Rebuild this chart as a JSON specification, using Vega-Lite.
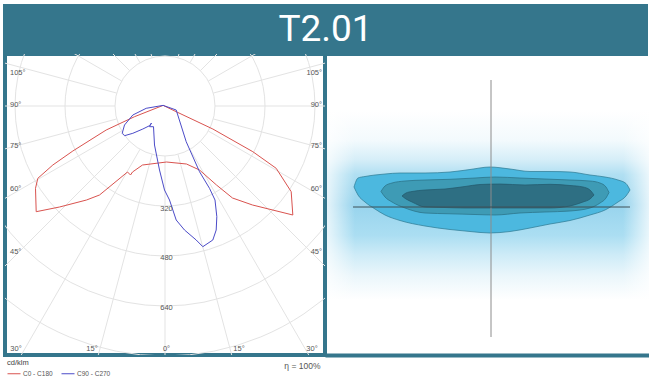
{
  "$schema": "https://vega.github.io/schema/vega-lite/v6.json",
  "background": "white",
  "padding": {"left": 3, "top": 4, "right": 0, "bottom": 0},
  "autosize": {"type": "pad"},
  "config": {"view": {"stroke": null}, "font": "Liberation Sans"},
  "spacing": 0,
  "bounds": "flush",
  "vconcat": [
    {
      "width": 641,
      "height": 48,
      "view": {"fill": "#35768C", "stroke": "#35768C", "strokeWidth": 4},
      "data": {"values": [{"label": "T2.01"}]},
      "mark": {"type": "text", "font": "Roboto", "fontSize": 37, "color": "white"},
      "encoding": {"text": {"field": "label"}}
    },
    {
      "spacing": 0,
      "bounds": "flush",
      "hconcat": [
        {
          "width": 320,
          "height": 301,
          "view": {"fill": "white", "stroke": "#35768C", "strokeWidth": 4},
          "layer": [
            {
              "data": {"values": [{"ring": 160}, {"ring": 320}, {"ring": 480}, {"ring": 640}, {"ring": 800}]},
              "mark": {"type": "point", "shape": "circle", "filled": false, "stroke": "#e3e3e3", "strokeWidth": 1, "opacity": 1, "clip": true},
              "encoding": {
                "x": {"datum": 0, "type": "quantitative", "scale": {"domain": [-512, 512], "nice": false, "zero": false}, "axis": {"domain": false, "ticks": false, "labels": false, "grid": false, "title": "η = 100%", "titleFontSize": 8.5, "titleFontWeight": "normal", "titleColor": "#555", "titleFont": "Liberation Sans", "titleX": 315, "titleY": 10, "titleAlign": "right", "titleBaseline": "middle"}},
                "y": {"datum": 0, "type": "quantitative", "scale": {"domain": [-796.8, 166.4], "nice": false, "zero": false}, "axis": null},
                "size": {"field": "ring", "type": "quantitative", "scale": {"type": "pow", "exponent": 2, "domain": [0, 800], "range": [0, 250000]}, "legend": null}
              }
            },
            {
              "data": {"values": [
                {"x0": 0, "y0": -160, "x1": 0, "y1": -1200},
                {"x0": 41.4, "y0": -154.5, "x1": 310.6, "y1": -1159.1},
                {"x0": 80, "y0": -138.6, "x1": 600, "y1": -1039.2},
                {"x0": 113.1, "y0": -113.1, "x1": 848.5, "y1": -848.5},
                {"x0": 138.6, "y0": -80, "x1": 1039.2, "y1": -600},
                {"x0": 154.5, "y0": -41.4, "x1": 1159.1, "y1": -310.6},
                {"x0": 160, "y0": 0, "x1": 1200, "y1": 0},
                {"x0": 154.5, "y0": 41.4, "x1": 1159.1, "y1": 310.6},
                {"x0": 138.6, "y0": 80, "x1": 1039.2, "y1": 600},
                {"x0": 113.1, "y0": 113.1, "x1": 848.5, "y1": 848.5},
                {"x0": 80, "y0": 138.6, "x1": 600, "y1": 1039.2},
                {"x0": 41.4, "y0": 154.5, "x1": 310.6, "y1": 1159.1},
                {"x0": -41.4, "y0": -154.5, "x1": -310.6, "y1": -1159.1},
                {"x0": -80, "y0": -138.6, "x1": -600, "y1": -1039.2},
                {"x0": -113.1, "y0": -113.1, "x1": -848.5, "y1": -848.5},
                {"x0": -138.6, "y0": -80, "x1": -1039.2, "y1": -600},
                {"x0": -154.5, "y0": -41.4, "x1": -1159.1, "y1": -310.6},
                {"x0": -160, "y0": 0, "x1": -1200, "y1": 0},
                {"x0": -154.5, "y0": 41.4, "x1": -1159.1, "y1": 310.6},
                {"x0": -138.6, "y0": 80, "x1": -1039.2, "y1": 600},
                {"x0": -113.1, "y0": 113.1, "x1": -848.5, "y1": 848.5},
                {"x0": -80, "y0": 138.6, "x1": -600, "y1": 1039.2},
                {"x0": -41.4, "y0": 154.5, "x1": -310.6, "y1": 1159.1}
              ]},
              "mark": {"type": "rule", "stroke": "#e3e3e3", "strokeWidth": 1, "clip": true},
              "encoding": {
                "x": {"field": "x0", "type": "quantitative", "scale": {"domain": [-512, 512], "nice": false, "zero": false}, "axis": {"domain": false, "ticks": false, "labels": false, "grid": false, "title": "η = 100%", "titleFontSize": 8.5, "titleFontWeight": "normal", "titleColor": "#555", "titleFont": "Liberation Sans", "titleX": 315, "titleY": 10, "titleAlign": "right", "titleBaseline": "middle"}},
                "y": {"field": "y0", "type": "quantitative", "scale": {"domain": [-796.8, 166.4], "nice": false, "zero": false}, "axis": null},
                "x2": {"field": "x1"},
                "y2": {"field": "y1"}
              }
            },
            {
              "data": {"values": [
                {"s": "C0 - C180", "i": 1, "x": -6, "y": 2},
                {"s": "C0 - C180", "i": 2, "x": -97.6, "y": -34.2},
                {"s": "C0 - C180", "i": 3, "x": -188.2, "y": -76.8},
                {"s": "C0 - C180", "i": 4, "x": -295, "y": -144},
                {"s": "C0 - C180", "i": 5, "x": -359, "y": -188.8},
                {"s": "C0 - C180", "i": 6, "x": -407, "y": -231.4},
                {"s": "C0 - C180", "i": 7, "x": -414.4, "y": -263.4},
                {"s": "C0 - C180", "i": 8, "x": -412.2, "y": -338.2},
                {"s": "C0 - C180", "i": 9, "x": -337.6, "y": -323.2},
                {"s": "C0 - C180", "i": 10, "x": -251.2, "y": -300.8},
                {"s": "C0 - C180", "i": 11, "x": -209.6, "y": -284.8},
                {"s": "C0 - C180", "i": 12, "x": -120, "y": -211.2},
                {"s": "C0 - C180", "i": 13, "x": -110.4, "y": -220.8},
                {"s": "C0 - C180", "i": 14, "x": -104, "y": -211.2},
                {"s": "C0 - C180", "i": 15, "x": -72, "y": -188.8},
                {"s": "C0 - C180", "i": 16, "x": 4.8, "y": -179.2},
                {"s": "C0 - C180", "i": 17, "x": 68.8, "y": -185.6},
                {"s": "C0 - C180", "i": 18, "x": 110.4, "y": -204.8},
                {"s": "C0 - C180", "i": 19, "x": 164.8, "y": -252.8},
                {"s": "C0 - C180", "i": 20, "x": 216, "y": -294.4},
                {"s": "C0 - C180", "i": 21, "x": 280, "y": -316.8},
                {"s": "C0 - C180", "i": 22, "x": 409, "y": -348.8},
                {"s": "C0 - C180", "i": 23, "x": 403.8, "y": -274.2},
                {"s": "C0 - C180", "i": 24, "x": 355.8, "y": -199.4},
                {"s": "C0 - C180", "i": 25, "x": 281, "y": -146.2},
                {"s": "C0 - C180", "i": 26, "x": 153, "y": -73.6},
                {"s": "C0 - C180", "i": 27, "x": 35.8, "y": -18.2},
                {"s": "C0 - C180", "i": 28, "x": -6, "y": 2},
                {"s": "C90 - C270", "i": 1, "x": -6, "y": 2},
                {"s": "C90 - C270", "i": 2, "x": -60.2, "y": -7.4},
                {"s": "C90 - C270", "i": 3, "x": -103, "y": -28.8},
                {"s": "C90 - C270", "i": 4, "x": -129.6, "y": -60.8},
                {"s": "C90 - C270", "i": 5, "x": -137, "y": -87.4},
                {"s": "C90 - C270", "i": 6, "x": -129.6, "y": -95},
                {"s": "C90 - C270", "i": 7, "x": -103, "y": -87.4},
                {"s": "C90 - C270", "i": 8, "x": -71, "y": -73.6},
                {"s": "C90 - C270", "i": 9, "x": -49.6, "y": -63},
                {"s": "C90 - C270", "i": 10, "x": -43.2, "y": -54.4},
                {"s": "C90 - C270", "i": 11, "x": -49.6, "y": -66.2},
                {"s": "C90 - C270", "i": 12, "x": -36.8, "y": -66.2},
                {"s": "C90 - C270", "i": 13, "x": -33.6, "y": -124.8},
                {"s": "C90 - C270", "i": 14, "x": -17.6, "y": -204.8},
                {"s": "C90 - C270", "i": 15, "x": -1.6, "y": -268.8},
                {"s": "C90 - C270", "i": 16, "x": 14.4, "y": -300.8},
                {"s": "C90 - C270", "i": 17, "x": 35.8, "y": -364.8},
                {"s": "C90 - C270", "i": 18, "x": 62.4, "y": -396.8},
                {"s": "C90 - C270", "i": 19, "x": 99.8, "y": -428.8},
                {"s": "C90 - C270", "i": 20, "x": 121, "y": -450.2},
                {"s": "C90 - C270", "i": 21, "x": 153, "y": -428.8},
                {"s": "C90 - C270", "i": 22, "x": 163.8, "y": -396.8},
                {"s": "C90 - C270", "i": 23, "x": 165.8, "y": -354.2},
                {"s": "C90 - C270", "i": 24, "x": 160, "y": -300.8},
                {"s": "C90 - C270", "i": 25, "x": 142.4, "y": -263.4},
                {"s": "C90 - C270", "i": 26, "x": 110.4, "y": -210.2},
                {"s": "C90 - C270", "i": 27, "x": 67.8, "y": -114.2},
                {"s": "C90 - C270", "i": 28, "x": 35.8, "y": -12.8},
                {"s": "C90 - C270", "i": 29, "x": -6, "y": 2}
              ]},
              "mark": {"type": "line", "strokeWidth": 1, "clip": true},
              "encoding": {
                "x": {"field": "x", "type": "quantitative", "scale": {"domain": [-512, 512], "nice": false, "zero": false}, "axis": {"domain": false, "ticks": false, "labels": false, "grid": false, "title": "η = 100%", "titleFontSize": 8.5, "titleFontWeight": "normal", "titleColor": "#555", "titleFont": "Liberation Sans", "titleX": 315, "titleY": 10, "titleAlign": "right", "titleBaseline": "middle"}},
                "y": {"field": "y", "type": "quantitative", "scale": {"domain": [-796.8, 166.4], "nice": false, "zero": false}, "axis": null},
                "order": {"field": "i", "type": "quantitative"},
                "color": {
                  "field": "s", "type": "nominal",
                  "scale": {"domain": ["C0 - C180", "C90 - C270"], "range": ["#d9534f", "#4b4bc8"]},
                  "legend": {"orient": "none", "legendX": 2, "legendY": 353, "direction": "horizontal", "title": "cd/klm", "titleFontSize": 7.5, "titleFontWeight": "normal", "titleColor": "#444", "titleFont": "Liberation Sans", "titlePadding": 0, "labelFontSize": 6.5, "labelFont": "Liberation Sans", "labelColor": "#555", "symbolType": "stroke", "symbolSize": 169, "symbolStrokeWidth": 1, "labelOffset": 2, "columnPadding": 6, "padding": 0}
                }
              }
            },
            {
              "data": {"values": [
                {"t": "105°", "x": -496, "y": 105.6},
                {"t": "90°", "x": -496, "y": 3.2},
                {"t": "75°", "x": -496, "y": -128},
                {"t": "60°", "x": -496, "y": -265.6},
                {"t": "45°", "x": -496, "y": -467.2}
              ]},
              "mark": {"type": "text", "align": "left", "baseline": "middle", "fontSize": 7.5, "color": "#555", "font": "Liberation Sans"},
              "encoding": {
                "x": {"field": "x", "type": "quantitative", "scale": {"domain": [-512, 512], "nice": false, "zero": false}, "axis": {"domain": false, "ticks": false, "labels": false, "grid": false, "title": "η = 100%", "titleFontSize": 8.5, "titleFontWeight": "normal", "titleColor": "#555", "titleFont": "Liberation Sans", "titleX": 315, "titleY": 10, "titleAlign": "right", "titleBaseline": "middle"}},
                "y": {"field": "y", "type": "quantitative", "scale": {"domain": [-796.8, 166.4], "nice": false, "zero": false}, "axis": null},
                "text": {"field": "t"}
              }
            },
            {
              "data": {"values": [
                {"t": "105°", "x": 502.4, "y": 105.6},
                {"t": "90°", "x": 502.4, "y": 3.2},
                {"t": "75°", "x": 502.4, "y": -128},
                {"t": "60°", "x": 502.4, "y": -265.6},
                {"t": "45°", "x": 502.4, "y": -467.2}
              ]},
              "mark": {"type": "text", "align": "right", "baseline": "middle", "fontSize": 7.5, "color": "#555", "font": "Liberation Sans"},
              "encoding": {
                "x": {"field": "x", "type": "quantitative", "scale": {"domain": [-512, 512], "nice": false, "zero": false}, "axis": {"domain": false, "ticks": false, "labels": false, "grid": false, "title": "η = 100%", "titleFontSize": 8.5, "titleFontWeight": "normal", "titleColor": "#555", "titleFont": "Liberation Sans", "titleX": 315, "titleY": 10, "titleAlign": "right", "titleBaseline": "middle"}},
                "y": {"field": "y", "type": "quantitative", "scale": {"domain": [-796.8, 166.4], "nice": false, "zero": false}, "axis": null},
                "text": {"field": "t"}
              }
            },
            {
              "data": {"values": [
                {"t": "30°", "x": -476.8, "y": -777.6},
                {"t": "15°", "x": -233.6, "y": -777.6},
                {"t": "0°", "x": 4.8, "y": -777.6},
                {"t": "15°", "x": 236.8, "y": -777.6},
                {"t": "30°", "x": 470.4, "y": -777.6},
                {"t": "320", "x": 4.8, "y": -329.6},
                {"t": "480", "x": 4.8, "y": -486.4},
                {"t": "640", "x": 4.8, "y": -646.4}
              ]},
              "mark": {"type": "text", "align": "center", "baseline": "middle", "fontSize": 7.5, "color": "#555", "font": "Liberation Sans"},
              "encoding": {
                "x": {"field": "x", "type": "quantitative", "scale": {"domain": [-512, 512], "nice": false, "zero": false}, "axis": {"domain": false, "ticks": false, "labels": false, "grid": false, "title": "η = 100%", "titleFontSize": 8.5, "titleFontWeight": "normal", "titleColor": "#555", "titleFont": "Liberation Sans", "titleX": 315, "titleY": 10, "titleAlign": "right", "titleBaseline": "middle"}},
                "y": {"field": "y", "type": "quantitative", "scale": {"domain": [-796.8, 166.4], "nice": false, "zero": false}, "axis": null},
                "text": {"field": "t"}
              }
            }
          ]
        },
        {
          "width": 324,
          "height": 301,
          "view": {"stroke": null},
          "layer": [
            {
              "data": {"values": [{}]},
              "mark": {"type": "rect", "clip": true, "fill": {"gradient": "linear", "x1": 0, "y1": 0, "x2": 0, "y2": 1, "stops": [
                {"offset": 0, "color": "#ffffff"},
                {"offset": 0.16, "color": "#f3fafd"},
                {"offset": 0.26, "color": "#d6eef8"},
                {"offset": 0.34, "color": "#b0dff2"},
                {"offset": 0.5, "color": "#98d4ed"},
                {"offset": 0.66, "color": "#abdef2"},
                {"offset": 0.76, "color": "#cdebf7"},
                {"offset": 0.87, "color": "#eaf6fb"},
                {"offset": 1, "color": "#ffffff"}
              ]}},
              "encoding": {
                "x": {"datum": -16.4, "type": "quantitative", "scale": {"domain": [-16.6, 15.8], "nice": false, "zero": false}, "axis": {"domain": true, "domainColor": "#35768C", "domainWidth": 4, "ticks": false, "labels": false, "grid": false, "title": null}},
                "x2": {"datum": 15.8},
                "y": {"datum": 9.7, "type": "quantitative", "scale": {"domain": [-14.8, 15.3], "nice": false, "zero": false}, "axis": null},
                "y2": {"datum": -9.3}
              }
            },
            {
              "data": {"values": [{}]},
              "mark": {"type": "rect", "clip": true, "fill": {"gradient": "linear", "x1": 0, "y1": 0, "x2": 1, "y2": 0, "stops": [
                {"offset": 0, "color": "rgba(255,255,255,0.75)"},
                {"offset": 1, "color": "rgba(255,255,255,0)"}
              ]}},
              "encoding": {
                "x": {"datum": -16.4, "type": "quantitative", "scale": {"domain": [-16.6, 15.8], "nice": false, "zero": false}, "axis": {"domain": true, "domainColor": "#35768C", "domainWidth": 4, "ticks": false, "labels": false, "grid": false, "title": null}},
                "x2": {"datum": -13.6},
                "y": {"datum": 9.7, "type": "quantitative", "scale": {"domain": [-14.8, 15.3], "nice": false, "zero": false}, "axis": null},
                "y2": {"datum": -9.3}
              }
            },
            {
              "data": {"values": [{}]},
              "mark": {"type": "rect", "clip": true, "fill": {"gradient": "linear", "x1": 0, "y1": 0, "x2": 1, "y2": 0, "stops": [
                {"offset": 0, "color": "rgba(255,255,255,0)"},
                {"offset": 1, "color": "rgba(255,255,255,0.75)"}
              ]}},
              "encoding": {
                "x": {"datum": 13.2, "type": "quantitative", "scale": {"domain": [-16.6, 15.8], "nice": false, "zero": false}, "axis": {"domain": true, "domainColor": "#35768C", "domainWidth": 4, "ticks": false, "labels": false, "grid": false, "title": null}},
                "x2": {"datum": 15.8},
                "y": {"datum": 9.7, "type": "quantitative", "scale": {"domain": [-14.8, 15.3], "nice": false, "zero": false}, "axis": null},
                "y2": {"datum": -9.3}
              }
            },
            {
              "data": {"values": [
                {"x": -13.7, "top": 2.0, "bottom": 2.0},
                {"x": -13.3, "top": 2.9, "bottom": 1.2},
                {"x": -12.6, "top": 3.05, "bottom": 0.5},
                {"x": -11.6, "top": 3.2, "bottom": -0.2},
                {"x": -10.6, "top": 3.3, "bottom": -0.8},
                {"x": -9.1, "top": 3.4, "bottom": -1.35},
                {"x": -6.6, "top": 3.4, "bottom": -1.9},
                {"x": -4.1, "top": 3.5, "bottom": -2.25},
                {"x": -2.1, "top": 3.75, "bottom": -2.45},
                {"x": -0.1, "top": 4.0, "bottom": -2.6},
                {"x": 1.9, "top": 3.8, "bottom": -2.45},
                {"x": 3.9, "top": 3.55, "bottom": -2.1},
                {"x": 5.9, "top": 3.55, "bottom": -1.7},
                {"x": 7.9, "top": 3.5, "bottom": -1.35},
                {"x": 9.9, "top": 3.2, "bottom": -0.8},
                {"x": 11.4, "top": 3.0, "bottom": -0.3},
                {"x": 12.7, "top": 2.7, "bottom": 0.5},
                {"x": 13.5, "top": 2.35, "bottom": 1.1},
                {"x": 13.9, "top": 1.7, "bottom": 1.7}
              ]},
              "mark": {"type": "area", "interpolate": "monotone", "fill": "#4cb8df", "stroke": "#2d7890", "strokeWidth": 0.7, "clip": true},
              "encoding": {
                "x": {"field": "x", "type": "quantitative", "scale": {"domain": [-16.6, 15.8], "nice": false, "zero": false}, "axis": {"domain": true, "domainColor": "#35768C", "domainWidth": 4, "ticks": false, "labels": false, "grid": false, "title": null}},
                "y": {"field": "top", "type": "quantitative", "scale": {"domain": [-14.8, 15.3], "nice": false, "zero": false}, "axis": null, "stack": null},
                "y2": {"field": "bottom"}
              }
            },
            {
              "data": {"values": [
                {"x": -11.0, "top": 1.55, "bottom": 1.55},
                {"x": -10.6, "top": 2.1, "bottom": 1.0},
                {"x": -9.9, "top": 2.4, "bottom": 0.5},
                {"x": -8.6, "top": 2.6, "bottom": -0.1},
                {"x": -6.6, "top": 2.7, "bottom": -0.6},
                {"x": -4.1, "top": 2.77, "bottom": -0.68},
                {"x": -1.6, "top": 2.9, "bottom": -0.75},
                {"x": 0.4, "top": 3.0, "bottom": -0.8},
                {"x": 2.9, "top": 2.9, "bottom": -0.6},
                {"x": 5.4, "top": 2.8, "bottom": -0.5},
                {"x": 7.9, "top": 2.7, "bottom": -0.4},
                {"x": 9.9, "top": 2.6, "bottom": -0.1},
                {"x": 10.9, "top": 2.4, "bottom": 0.4},
                {"x": 11.5, "top": 2.0, "bottom": 0.9},
                {"x": 11.8, "top": 1.45, "bottom": 1.45}
              ]},
              "mark": {"type": "area", "interpolate": "monotone", "fill": "#3e9bb5", "stroke": "#2a6e82", "strokeWidth": 0.7, "clip": true},
              "encoding": {
                "x": {"field": "x", "type": "quantitative", "scale": {"domain": [-16.6, 15.8], "nice": false, "zero": false}, "axis": {"domain": true, "domainColor": "#35768C", "domainWidth": 4, "ticks": false, "labels": false, "grid": false, "title": null}},
                "y": {"field": "top", "type": "quantitative", "scale": {"domain": [-14.8, 15.3], "nice": false, "zero": false}, "axis": null, "stack": null},
                "y2": {"field": "bottom"}
              }
            },
            {
              "data": {"values": [
                {"x": -8.9, "top": 1.1, "bottom": 1.1},
                {"x": -8.5, "top": 1.4, "bottom": 0.8},
                {"x": -7.9, "top": 1.55, "bottom": 0.5},
                {"x": -6.6, "top": 1.7, "bottom": 0.0},
                {"x": -4.6, "top": 1.8, "bottom": -0.05},
                {"x": -2.6, "top": 2.05, "bottom": -0.1},
                {"x": -1.1, "top": 2.25, "bottom": -0.1},
                {"x": 0.9, "top": 2.3, "bottom": -0.1},
                {"x": 3.4, "top": 2.2, "bottom": -0.1},
                {"x": 5.9, "top": 2.27, "bottom": -0.1},
                {"x": 7.9, "top": 2.15, "bottom": 0.1},
                {"x": 9.2, "top": 2.0, "bottom": 0.5},
                {"x": 9.9, "top": 1.7, "bottom": 0.8},
                {"x": 10.3, "top": 1.2, "bottom": 1.2}
              ]},
              "mark": {"type": "area", "interpolate": "monotone", "fill": "#2e6f83", "stroke": "#23586a", "strokeWidth": 0.7, "clip": true},
              "encoding": {
                "x": {"field": "x", "type": "quantitative", "scale": {"domain": [-16.6, 15.8], "nice": false, "zero": false}, "axis": {"domain": true, "domainColor": "#35768C", "domainWidth": 4, "ticks": false, "labels": false, "grid": false, "title": null}},
                "y": {"field": "top", "type": "quantitative", "scale": {"domain": [-14.8, 15.3], "nice": false, "zero": false}, "axis": null, "stack": null},
                "y2": {"field": "bottom"}
              }
            },
            {
              "data": {"values": [{}]},
              "mark": {"type": "rule", "stroke": "#8c8c8c", "strokeWidth": 1},
              "encoding": {
                "x": {"datum": 0, "type": "quantitative", "scale": {"domain": [-16.6, 15.8], "nice": false, "zero": false}, "axis": {"domain": true, "domainColor": "#35768C", "domainWidth": 4, "ticks": false, "labels": false, "grid": false, "title": null}},
                "y": {"datum": 12.7, "type": "quantitative", "scale": {"domain": [-14.8, 15.3], "nice": false, "zero": false}, "axis": null},
                "y2": {"datum": -13}
              }
            },
            {
              "data": {"values": [{}]},
              "mark": {"type": "rule", "stroke": "#3e5157", "strokeWidth": 1},
              "encoding": {
                "x": {"datum": -13.8, "type": "quantitative", "scale": {"domain": [-16.6, 15.8], "nice": false, "zero": false}, "axis": {"domain": true, "domainColor": "#35768C", "domainWidth": 4, "ticks": false, "labels": false, "grid": false, "title": null}},
                "x2": {"datum": 13.9},
                "y": {"datum": 0, "type": "quantitative", "scale": {"domain": [-14.8, 15.3], "nice": false, "zero": false}, "axis": null}
              }
            }
          ]
        }
      ]
    }
  ]
}
